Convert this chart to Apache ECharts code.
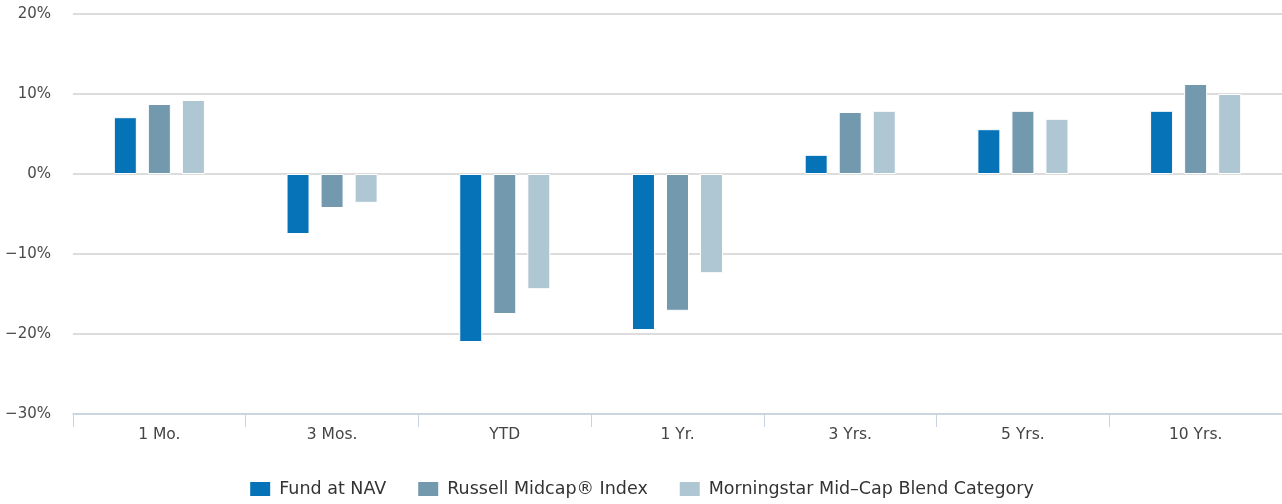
<!DOCTYPE html>
<html>
<head>
<meta charset="utf-8">
<script src="https://cdn.jsdelivr.net/npm/echarts@6/dist/echarts.min.js"></script>
<style>
  html, body { margin: 0; padding: 0; background: #ffffff; }
  #chart { width: 1282px; height: 504px; }
</style>
</head>
<body>
<div id="chart"></div>
<script>
// Trailing returns by period (%)
const periods = ['1 Mo.', '3 Mos.', 'YTD', '1 Yr.', '3 Yrs.', '5 Yrs.', '10 Yrs.'];
const fundAtNav = [7.1, -7.5, -21.0, -19.5, 2.4, 5.6, 7.9];
const russellMidcap = [8.75, -4.25, -17.5, -17.1, 7.75, 7.9, 11.25];
const morningstarMidCap = [9.25, -3.6, -14.4, -12.4, 7.9, 6.9, 10.0];
const seriesNames = ['Fund at NAV', 'Russell Midcap\u00ae Index', 'Morningstar Mid\u2013Cap Blend Category'];
const seriesColors = ['#0673b8', '#7399ae', '#afc6d3'];

const fontFamily = '"DejaVu Sans", "Noto Sans", sans-serif';

const chart = echarts.init(document.getElementById('chart'), null, { renderer: 'canvas' });

function barSeries(name, data, color) {
  return {
    name: name,
    type: 'bar',
    data: data,
    barWidth: 23,
    barGap: '48%',
    itemStyle: { color: color, borderColor: '#ffffff', borderWidth: 1 },
    emphasis: { disabled: true }
  };
}

chart.setOption({
  animation: false,
  color: seriesColors,
  grid: { left: 73, right: 0, top: 14, bottom: 90, containLabel: false },
  legend: {
    bottom: 1,
    left: 'center',
    itemWidth: 22,
    itemHeight: 16,
    itemGap: 30,
    icon: 'rect',
    textStyle: { fontFamily: fontFamily, fontSize: 17.5, color: '#333333', padding: [0, 0, 0, 3] },
    data: seriesNames
  },
  xAxis: {
    type: 'category',
    data: periods,
    boundaryGap: true,
    axisLine: { show: true, onZero: false, lineStyle: { color: '#c6d3e2', width: 1.5 } },
    axisTick: { show: true, length: 13, lineStyle: { color: '#c6d3e2' } },
    axisLabel: { fontFamily: fontFamily, fontSize: 15.5, color: '#444444', margin: 13 }
  },
  yAxis: {
    type: 'value',
    min: -30,
    max: 20,
    interval: 10,
    axisLine: { show: false },
    axisTick: { show: false },
    splitLine: { lineStyle: { color: '#d0d0d0', width: 1.5 } },
    axisLabel: {
      fontFamily: fontFamily,
      fontSize: 15,
      color: '#4a4a4a',
      margin: 22,
      formatter: function (v) { return (v < 0 ? '\u2212' + Math.abs(v) : v) + '%'; }
    }
  },
  series: [
    barSeries(seriesNames[0], fundAtNav, seriesColors[0]),
    barSeries(seriesNames[1], russellMidcap, seriesColors[1]),
    barSeries(seriesNames[2], morningstarMidCap, seriesColors[2])
  ]
});
</script>
</body>
</html>
